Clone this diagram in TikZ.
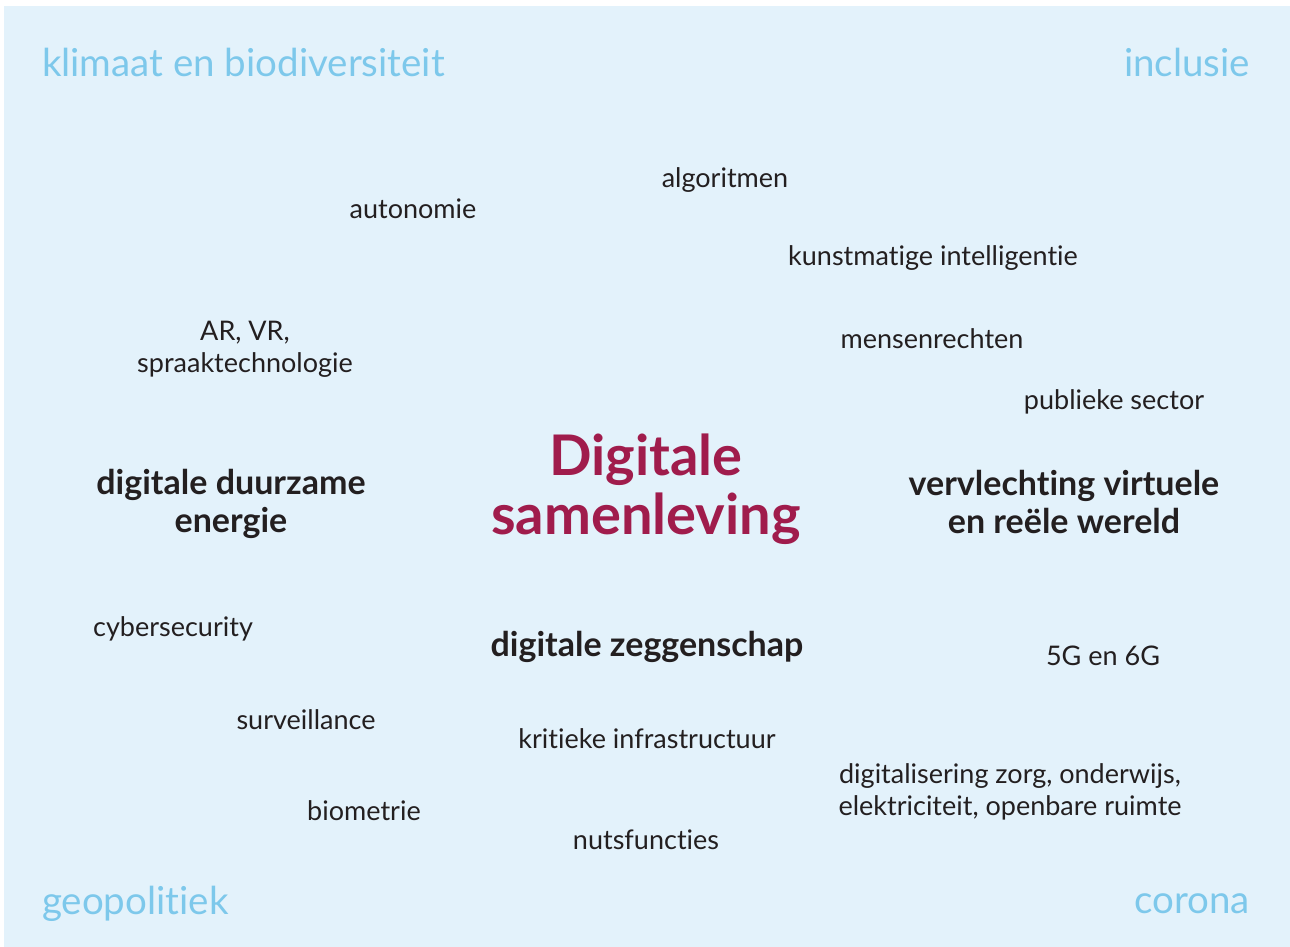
\documentclass[tikz,border=0pt]{standalone}
\usepackage{fontspec}
\setmainfont[Ligatures={NoCommon}]{Lato}
\definecolor{bg}{HTML}{E3F2FB}
\definecolor{corner}{HTML}{7DC8EB}
\definecolor{ink}{HTML}{231F20}
\definecolor{title}{HTML}{A01C4C}
\begin{document}
\begin{tikzpicture}[x=1pt,y=-1pt,
  every node/.style={inner sep=0pt, outer sep=0pt},
  cornertxt/.style={text=corner, font=\fontsize{38.5}{40}\selectfont},
  small/.style={text=ink, align=center, font=\fontsize{27}{32}\selectfont},
  bold/.style={text=ink, align=center, font=\fontsize{34}{38}\selectfont\bfseries},
  big/.style={text=title, align=center, font=\fontsize{56}{59}\selectfont\bfseries}]
\useasboundingbox (0,0) rectangle (1290,947);
\fill[bg] (4,6) rectangle (1290,947);
\node[cornertxt, anchor=west] (klimaat) at (42,62) {klimaat en biodiversiteit};
\node[cornertxt, anchor=east] (inclusie) at (1250,62) {inclusie};
\node[cornertxt, anchor=west] (geo) at (42,904) {geopolitiek};
\node[cornertxt, anchor=east] (corona) at (1250,904) {corona};
\node[small] (algo) at (725,180) {algoritmen};
\node[small] (auto) at (413,209) {autonomie};
\node[small] (ki) at (933,258) {kunstmatige intelligentie};
\node[small] (arvr) at (245,349) {AR, VR,\\spraaktechnologie};
\node[small] (mens) at (932,339) {mensenrechten};
\node[small] (pub) at (1114,402) {publieke sector};
\node[big] (ds) at (646,489) {Digitale\\samenleving};
\node[bold] (dde) at (231,504) {digitale duurzame\\energie};
\node[bold] (vv) at (1064,502) {vervlechting virtuele\\en reële wereld};
\node[small] (cyber) at (173,629) {cybersecurity};
\node[bold] (dz) at (647,647) {digitale zeggenschap};
\node[small] (g5) at (1103,656) {5G en 6G};
\node[small] (surv) at (306,720) {surveillance};
\node[small] (krit) at (647,739) {kritieke infrastructuur};
\node[small] (dig) at (1010,792) {digitalisering zorg, onderwijs,\\elektriciteit, openbare ruimte};
\node[small] (bio) at (364,811) {biometrie};
\node[small] (nuts) at (646,840) {nutsfuncties};
\end{tikzpicture}
\end{document}
